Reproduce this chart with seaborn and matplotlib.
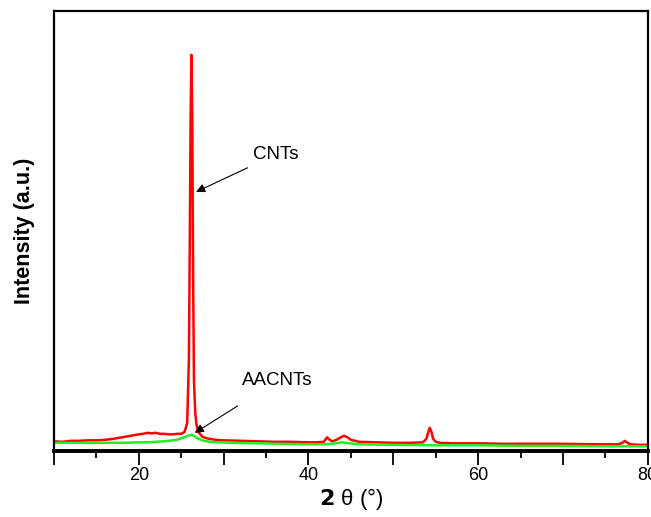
import matplotlib
matplotlib.use("Agg")
import matplotlib.pyplot as plt
import seaborn as sns
import pandas as pd
import numpy as np

# CNTs (red) curve: 2theta (deg) and intensity (a.u.)
cnt_x = [10, 11, 12, 13, 14, 15, 16, 17, 18, 19, 20, 20.5, 21, 21.5, 22, 22.5, 23, 23.5, 24, 24.5,
         25, 25.4, 25.7, 25.9, 26.0, 26.1, 26.2, 26.3, 26.4, 26.5, 26.65, 26.8, 27.0, 27.5, 28, 29,
         30, 32, 34, 36, 38, 40, 41, 41.8, 42.2, 42.5, 42.8, 43.3, 43.8, 44.2, 44.6, 45.0, 45.5, 46,
         48, 50, 52, 53.5, 53.9, 54.1, 54.3, 54.5, 54.7, 55.0, 55.5, 57, 60, 63, 66, 70, 74, 76.5,
         77.0, 77.3, 77.6, 78, 79, 80]
cnt_y = [9.5, 9, 10, 10, 10.5, 10.5, 11, 12, 13.5, 15, 16.5, 17, 18, 17.5, 18, 17, 17, 16.5, 16.5, 17,
         17, 19, 28, 90, 200, 330, 396, 330, 170, 70, 38, 26, 19, 14, 12.5, 11,
         10.5, 10, 9.5, 9, 9, 8.5, 8.5, 9, 13.5, 11, 9.5, 11, 13.5, 15, 13.5, 11, 10, 9,
         8.5, 8, 8, 8.5, 12, 18, 23, 19, 12, 9, 8, 7.5, 7.5, 7, 7, 7, 6.5, 6.5,
         8, 10, 8, 6.5, 6, 6]

# AACNTs (green) curve
aac_x = [10, 12, 14, 16, 18, 20, 21, 22, 23, 24, 24.5, 25, 25.5, 25.9, 26.2, 26.5, 26.8, 27.2,
         27.7, 28.5, 29.5, 31, 34, 37, 40, 42, 43.2, 44.0, 44.8, 46, 50, 55, 60, 65, 70, 75, 80]
aac_y = [8, 8, 8, 8, 8, 8.5, 8.5, 9, 9.5, 10.5, 11, 12.5, 14, 15.5, 16, 15, 13, 11.5,
         10, 9, 8.5, 8, 7.5, 7, 6.5, 6.5, 7.5, 8.5, 7.5, 6.5, 6, 5.5, 5.5, 5, 5, 4.5, 4.5]

xtick_major = [10, 20, 30, 40, 50, 60, 70, 80]
xtick_labels = ["", "20", "", "40", "", "60", "", "80"]

sns.set_style("white")
plt.rcParams["font.family"] = ["Liberation Sans", "DejaVu Sans"]
plt.rcParams["text.color"] = "black"
plt.rcParams["axes.labelcolor"] = "black"
plt.rcParams["xtick.color"] = "black"

fig = plt.figure(figsize=(6.51, 5.17), dpi=100)
ax = fig.add_axes([0.083, 0.128, 0.912, 0.851])

df_c = pd.DataFrame({"x": cnt_x, "y": cnt_y})
df_a = pd.DataFrame({"x": aac_x, "y": aac_y})
sns.lineplot(data=df_c, x="x", y="y", ax=ax, color="#ff0000", lw=1.8, estimator=None, sort=False)
sns.lineplot(data=df_a, x="x", y="y", ax=ax, color="#22ee22", lw=1.8, estimator=None, sort=False)

ax.set_xlim(10, 80)
ax.set_ylim(0, 440)
ax.set_yticks([])
ax.set_xticks(xtick_major)
ax.set_xticklabels(xtick_labels, fontsize=13)
ax.set_xticks(np.arange(15, 80, 10), minor=True)
ax.tick_params(axis="x", which="major", bottom=True, direction="out", length=10, width=1.3,
               color="black", labelcolor="black", pad=2)
ax.tick_params(axis="x", which="minor", bottom=True, direction="out", length=5, width=1.3,
               color="black")

for s in ["left", "top", "right"]:
    ax.spines[s].set_linewidth(1.6)
    ax.spines[s].set_color("black")
ax.spines["bottom"].set_linewidth(2.8)
ax.spines["bottom"].set_color("black")

ax.set_ylabel("Intensity (a.u.)", fontsize=15.5, fontweight="bold", labelpad=14, color="black")
ax.set_xlabel(r"$\mathbf{2}$ θ (°)", fontsize=16, labelpad=1, color="black")

ax.annotate("CNTs", xy=(26.75, 259), xytext=(33.4, 296), fontsize=13.5, color="black",
            ha="left", va="center",
            arrowprops=dict(arrowstyle="-|>", color="black", lw=0.8, mutation_scale=13,
                            shrinkA=2, shrinkB=0))
ax.annotate("AACNTs", xy=(26.6, 18), xytext=(32.2, 70), fontsize=13.5, color="black",
            ha="left", va="center",
            arrowprops=dict(arrowstyle="-|>", color="black", lw=0.8, mutation_scale=13,
                            shrinkA=18, shrinkB=0))

fig.savefig("out.png", dpi=100)
